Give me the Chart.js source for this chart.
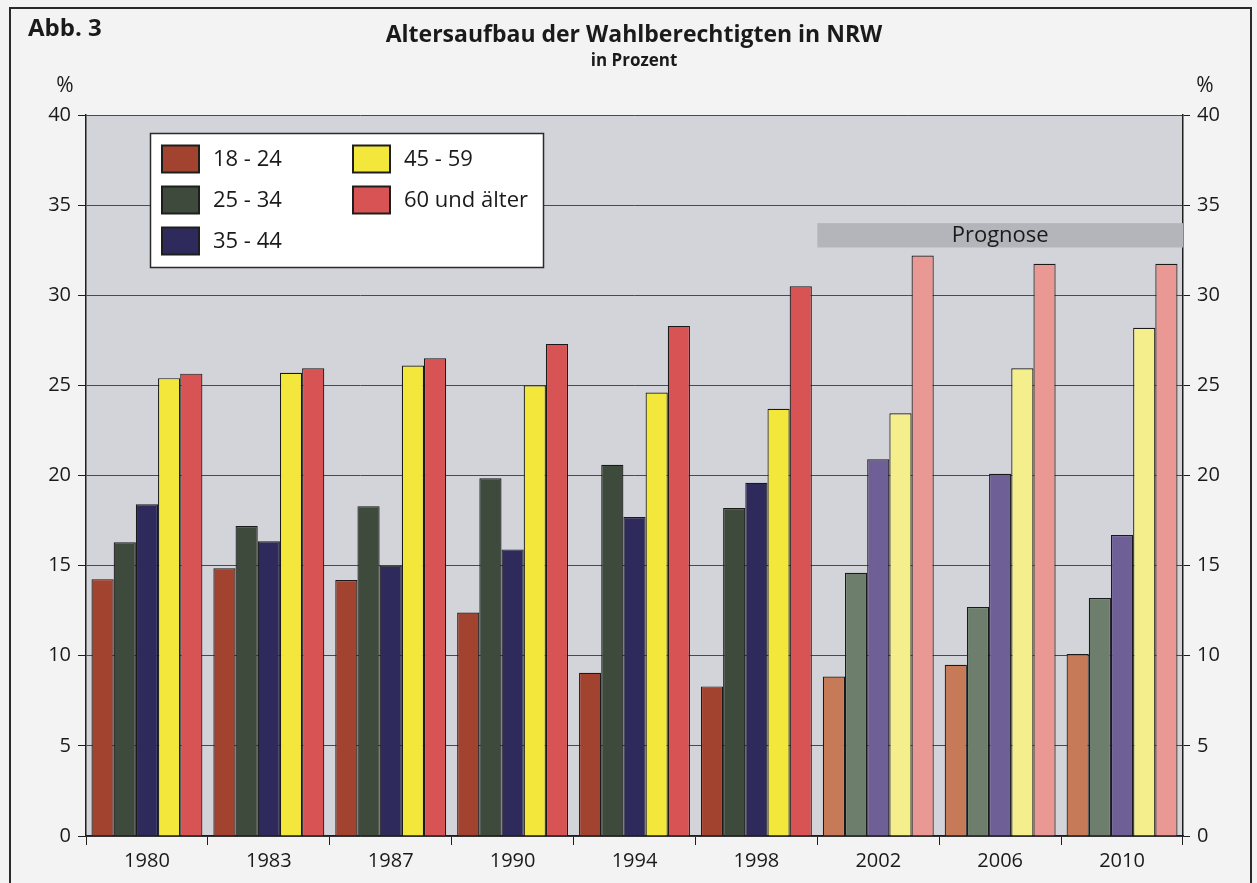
<!DOCTYPE html>
<html>
<head>
<meta charset="utf-8">
<script src="https://cdn.jsdelivr.net/npm/chart.js@4/dist/chart.umd.min.js"></script>
<style>
html,body{margin:0;padding:0;background:#f3f3f4;}
canvas{display:block;}
</style>
</head>
<body>
<canvas id="c" width="1257" height="883"></canvas>
<script>
// ---- data ----
const years = ['1980','1983','1987','1990','1994','1998','2002','2006','2010'];
const prognoseYears = ['2002','2006','2010'];
const s18_24 = [14.25, 14.85, 14.2, 12.4, 9.05, 8.3, 8.85, 9.5, 10.1];
const s25_34 = [16.3, 17.2, 18.3, 19.85, 20.6, 18.2, 14.6, 12.7, 13.2];
const s35_44 = [18.4, 16.35, 15.0, 15.9, 17.7, 19.6, 20.9, 20.1, 16.7];
const s45_59 = [25.4, 25.7, 26.1, 25.0, 24.6, 23.7, 23.45, 25.95, 28.2];
const s60plus = [25.65, 25.95, 26.5, 27.3, 28.3, 30.5, 32.2, 31.75, 31.75];
const seriesLabels = ['18 - 24', '25 - 34', '35 - 44', '45 - 59', '60 und älter'];
const yTicks = [0, 5, 10, 15, 20, 25, 30, 35, 40];

// ---- styles ----
const baseColors = ['#a2432f', '#3d4a3c', '#2e2a5b', '#f4e73c', '#d85454'];
const lightColors = ['#c67a57', '#6d7f6c', '#6e5f97', '#f5ee8c', '#e99893'];
const FONT = "'Open Sans', 'Noto Sans', sans-serif";

const seriesData = [s18_24, s25_34, s35_44, s45_59, s60plus];
const datasets = seriesData.map((d, i) => ({
  label: seriesLabels[i],
  data: d,
  backgroundColor: years.map(y => prognoseYears.includes(y) ? lightColors[i] : baseColors[i]),
  borderColor: '#1a1a1a',
  borderWidth: 1.2,
  borderSkipped: 'bottom',
  categoryPercentage: 0.91,
  barPercentage: 1.0
}));

const decor = {
  id: 'decor',
  beforeDraw(chart) {
    const ctx = chart.ctx, a = chart.chartArea;
    ctx.save();
    ctx.fillStyle = '#f3f3f4';
    ctx.fillRect(0, 0, chart.width, chart.height);
    ctx.fillStyle = '#d3d4d9';
    ctx.fillRect(a.left, a.top, a.right - a.left, a.bottom - a.top);
    ctx.restore();
  },
  beforeDatasetsDraw(chart) {
    const ctx = chart.ctx, a = chart.chartArea;
    const x = chart.scales.x, y = chart.scales.y;
    const idx = years.indexOf(prognoseYears[0]);
    const half = (x.getPixelForValue(1) - x.getPixelForValue(0)) / 2;
    const x0 = x.getPixelForValue(idx) - half;
    const yTop = y.getPixelForValue(34.0), yBot = y.getPixelForValue(32.65);
    ctx.save();
    ctx.fillStyle = '#b4b5bb';
    ctx.fillRect(x0, yTop, a.right - x0, yBot - yTop);
    ctx.fillStyle = '#1a1a1a';
    ctx.font = '22px ' + FONT;
    ctx.textAlign = 'center';
    ctx.textBaseline = 'middle';
    ctx.fillText('Prognose', (x0 + a.right) / 2, (yTop + yBot) / 2);
    ctx.restore();
  },
  afterDraw(chart) {
    const ctx = chart.ctx;
    ctx.save();
    // frame
    ctx.strokeStyle = '#2a2a2a';
    ctx.lineWidth = 2;
    ctx.beginPath();
    ctx.moveTo(10, 883); ctx.lineTo(10, 8); ctx.lineTo(1251, 8); ctx.lineTo(1251, 883);
    ctx.stroke();
    // texts
    ctx.fillStyle = '#1a1a1a';
    ctx.textBaseline = 'middle';
    ctx.textAlign = 'left';
    ctx.font = 'bold 24px ' + FONT;
    ctx.fillText('Abb. 3', 28, 29);
    ctx.textAlign = 'center';
    ctx.font = 'bold 23px ' + FONT;
    ctx.fillText('Altersaufbau der Wahlberechtigten in NRW', 634, 35);
    ctx.font = 'bold 17px ' + FONT;
    ctx.fillText('in Prozent', 634, 61);
    ctx.font = '21px ' + FONT;
    ctx.fillText('%', 65, 86);
    ctx.fillText('%', 1205, 86);
    // legend
    const lx = 150, ly = 133, lw = 393, lh = 134;
    ctx.fillStyle = '#ffffff';
    ctx.fillRect(lx, ly, lw, lh);
    ctx.strokeStyle = '#2a2a2a';
    ctx.lineWidth = 1.5;
    ctx.strokeRect(lx + 0.5, ly + 0.5, lw, lh);
    const pos = [[162, 159], [162, 200], [162, 241], [353, 159], [353, 200]];
    ctx.font = '22px ' + FONT;
    ctx.textAlign = 'left';
    seriesLabels.forEach((lab, i) => {
      const [px, py] = pos[i];
      ctx.fillStyle = baseColors[i];
      ctx.fillRect(px, py - 13.5, 37, 27);
      ctx.strokeStyle = '#1e1e1e';
      ctx.lineWidth = 2;
      ctx.strokeRect(px, py - 13.5, 37, 27);
      ctx.fillStyle = '#1a1a1a';
      ctx.fillText(lab, px + 51, py + 1);
    });
    ctx.restore();
  }
};

new Chart(document.getElementById('c'), {
  type: 'bar',
  data: { labels: years, datasets },
  options: {
    responsive: false,
    animation: false,
    devicePixelRatio: 1,
    layout: { padding: { top: 115, left: 0, right: 0, bottom: 0 } },
    plugins: { legend: { display: false }, title: { display: false }, tooltip: { enabled: false } },
    scales: {
      x: {
        afterFit(s) { s.height = 47; },
        grid: { display: true, drawOnChartArea: false, drawTicks: true, tickLength: 9, color: '#1e1e1e', offset: true },
        border: { color: '#1e1e1e', width: 1.5 },
        ticks: { color: '#1a1a1a', font: { family: FONT, size: 20 }, padding: 4 }
      },
      y: {
        position: 'left',
        min: 0, max: 40,
        afterFit(s) { s.width = 86; },
        afterBuildTicks(s) { s.ticks = yTicks.map(v => ({ value: v })); },
        grid: { color: '#4a4a4e', lineWidth: 1, drawTicks: true, tickLength: 8, tickColor: '#1e1e1e' },
        border: { color: '#1e1e1e', width: 1.5 },
        ticks: { color: '#1a1a1a', font: { family: FONT, size: 20 }, padding: 7 }
      },
      y2: {
        position: 'right',
        min: 0, max: 40,
        afterFit(s) { s.width = 74; },
        afterBuildTicks(s) { s.ticks = yTicks.map(v => ({ value: v })); },
        grid: { drawOnChartArea: false, drawTicks: true, tickLength: 7, color: '#1e1e1e' },
        border: { color: '#1e1e1e', width: 1.5 },
        ticks: { color: '#1a1a1a', font: { family: FONT, size: 20 }, padding: 7 }
      }
    }
  },
  plugins: [decor]
});
</script>
</body>
</html>
